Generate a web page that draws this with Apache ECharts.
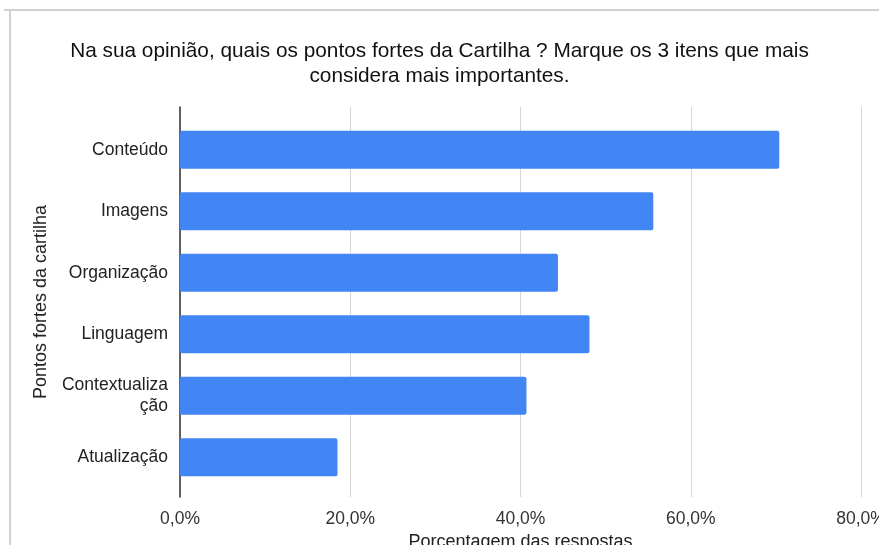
<!DOCTYPE html>
<html>
<head>
<meta charset="utf-8">
<script src="https://cdn.jsdelivr.net/npm/echarts@6/dist/echarts.min.js"></script>
<style>
  html, body { margin: 0; padding: 0; background: #fff; }
  #chart { width: 879px; height: 545px; }
</style>
</head>
<body>
<div id="chart"></div>
<script>
// Pontos fortes da cartilha (percentual das respostas)
var categories = ['Conteúdo', 'Imagens', 'Organização', 'Linguagem', 'Contextualiza\nção', 'Atualização'];
var percentages = [70.4, 55.6, 44.4, 48.1, 40.7, 18.5];
var xTicks = [0, 20, 40, 60, 80];

var titleText = 'Na sua opinião, quais os pontos fortes da Cartilha ? Marque os 3 itens que mais\nconsidera mais importantes.';
var font = '"Liberation Sans", Arial, sans-serif';

function pct(v) {
  return v.toFixed(1).replace('.', ',') + '%';
}

var chart = echarts.init(document.getElementById('chart'), null, { renderer: 'canvas' });

chart.setOption({
  backgroundColor: '#ffffff',
  animation: false,
  title: {
    text: titleText,
    left: 'center',
    top: 34,
    textStyle: {
      fontFamily: font,
      fontSize: 20.8,
      fontWeight: 'normal',
      color: '#111',
      lineHeight: 25
    }
  },
  graphic: [
    { type: 'line', shape: { x1: 4, y1: 10, x2: 879, y2: 10 }, style: { stroke: '#d0d0d0', lineWidth: 2 } },
    { type: 'line', shape: { x1: 10, y1: 10, x2: 10, y2: 545 }, style: { stroke: '#d0d0d0', lineWidth: 2 } }
  ],
  grid: [
    { left: 180, right: 18, top: 107, bottom: 48, outerBoundsMode: 'none', containLabel: false },
    { left: 180, right: 18, top: 119, bottom: 57, outerBoundsMode: 'none', containLabel: false }
  ],
  xAxis: [
    {
      gridIndex: 0,
      type: 'value',
      min: xTicks[0],
      max: xTicks[xTicks.length - 1],
      interval: 20,
      axisLine: { show: false },
      axisTick: { show: false },
      splitLine: { show: true, lineStyle: { color: '#d6d6d6', width: 1 } },
      axisLabel: {
        formatter: function (v) { return pct(v); },
        fontFamily: font,
        fontSize: 17.5,
        color: '#333',
        margin: 13
      },
      name: 'Porcentagem das respostas',
      nameLocation: 'middle',
      nameGap: 32,
      nameTextStyle: { fontFamily: font, fontSize: 18, color: '#222' }
    },
    {
      gridIndex: 1,
      type: 'value',
      min: xTicks[0],
      max: xTicks[xTicks.length - 1],
      show: false
    }
  ],
  yAxis: [
    {
      gridIndex: 0,
      type: 'value',
      min: 0,
      max: 1,
      axisLine: { show: true, onZero: false, lineStyle: { color: '#333', width: 1.5 } },
      axisTick: { show: false },
      axisLabel: { show: false },
      splitLine: { show: false },
      name: 'Pontos fortes da cartilha',
      nameLocation: 'middle',
      nameGap: 130,
      nameRotate: 90,
      nameTextStyle: { fontFamily: font, fontSize: 18, color: '#222' }
    },
    {
      gridIndex: 1,
      type: 'category',
      inverse: true,
      data: categories,
      axisLine: { show: false },
      axisTick: { show: false },
      axisLabel: {
        fontFamily: font,
        fontSize: 17.5,
        color: '#222',
        margin: 12,
        lineHeight: 21,
        align: 'right'
      }
    }
  ],
  series: [
    {
      type: 'bar',
      xAxisIndex: 1,
      yAxisIndex: 1,
      data: percentages,
      barWidth: 38,
      itemStyle: { color: '#4285f4', borderRadius: 2 }
    }
  ]
});
</script>
</body>
</html>
